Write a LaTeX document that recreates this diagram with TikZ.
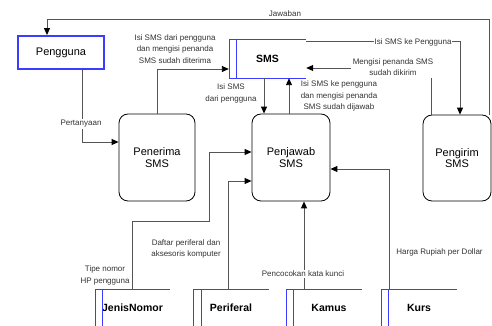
\documentclass[tikz,border=0pt]{standalone}
\usepackage{fontspec}
\setmainfont{Liberation Sans}
\usetikzlibrary{arrows.meta,calc}
\definecolor{storeblue}{RGB}{60,60,255}
\definecolor{flowgray}{RGB}{85,85,85}
\tikzset{
  proc/.style={draw=black, line width=0.8pt, rounded corners=9pt, align=center,
    font=\fontsize{11}{11.5}\selectfont, inner sep=0pt},
  ent/.style={draw=storeblue, line width=1.8pt, align=center,
    font=\fontsize{11}{12}\selectfont, inner sep=0pt},
  storetxt/.style={align=center, font=\bfseries\fontsize{10.5}{12}\selectfont, inner sep=0pt},
  storeline/.style={draw=storeblue, line width=0.9pt},
  flow/.style={draw=flowgray, line width=0.9pt, -{Triangle[length=7pt,width=6pt,color=black]}},
  lab/.style={align=center, font=\fontsize{8}{11.5}\selectfont, inner sep=1pt, text=black!80},
  labw/.style={lab, fill=white}
}
\begin{document}
\begin{tikzpicture}[x=1pt,y=-1pt]
\useasboundingbox (0,0) rectangle (492,326);
\clip (0,0) rectangle (492,326);
\fill[white] (0,0) rectangle (492,326);

% entities / processes
\node[ent, minimum width=86pt, minimum height=33pt] (pengguna) at (61,52.5) {Pengguna};
\node[proc, minimum width=76pt, minimum height=87pt] (penerima) at (157,157.5) {Penerima\\SMS};
\node[proc, minimum width=78pt, minimum height=87pt] (penjawab) at (291,157.5) {Penjawab\\SMS};
\node[proc, minimum width=68pt, minimum height=86pt] (pengirim) at (457,158) {Pengirim\\SMS};

% SMS store
\node[storetxt, minimum width=77pt, minimum height=39pt] (sms) at (267.5,58.5) {SMS};
\draw[storeline] (306,39) -- (229,39) -- (229,78) -- (306,78);
\draw[storeline] (236,39) -- (236,78);

% bottom stores
\node[storetxt, minimum width=75pt, minimum height=38pt] (jenis) at (132.5,308) {JenisNomor};
\node[storetxt, minimum width=76pt, minimum height=38pt] (periferal) at (231,308) {Periferal};
\node[storetxt, minimum width=76pt, minimum height=38pt] (kamus) at (324,308) {\hspace*{10pt}Kamus};
\node[storetxt, minimum width=76pt, minimum height=38pt] (kurs) at (419,308) {Kurs};
\draw[storeline] (95,330) -- (95,289) -- (170,289);
\draw[storeline] (102,289) -- (102,330);
\draw[storeline] (193,330) -- (193,289) -- (269,289);
\draw[storeline] (201,289) -- (201,330);
\draw[storeline] (286,330) -- (286,289) -- (362,289);
\draw[storeline] (293,289) -- (293,330);
\draw[storeline] (381,330) -- (381,289) -- (457,289);
\draw[storeline] (388,289) -- (388,330);

% coordinates for Jawaban
\coordinate (jR) at (489,19);
\coordinate (jL) at (47,19);

% flows
\draw[flow] (pengirim.north -| jR) |- (jL) -- (pengguna.north -| jL);
\node[lab] at (285,14) {Jawaban};

\draw[flow] ([xshift=21pt]pengguna.south) |- ([yshift=15.5pt]penerima.west);
\node[labw] at (81,124) {Pertanyaan};

\draw[flow] (penerima.north) |- ([yshift=-10.5pt]sms.west);
\node[lab] at (175,49) {Isi SMS dari pengguna\\dan mengisi penanda\\SMS sudah diterima};

\draw[flow] ([xshift=-3.5pt]sms.south) -- ([xshift=-3.5pt]sms.south |- penjawab.north);
\node[lab] at (231,93.5) {Isi SMS\\dari pengguna};

\draw[flow] ([xshift=-2pt]penjawab.north) -- ([xshift=-2pt]penjawab.north |- sms.south);
\node[lab] at (339,96) {Isi SMS ke pengguna\\dan mengisi penanda\\SMS sudah dijawab};

\draw[flow] ([yshift=-3pt]sms.north east) -| ([xshift=3pt]pengirim.north);
\node[labw] at (413,42) {Isi SMS ke Pengguna};

\draw[flow] ([xshift=-26pt]pengirim.north) |- ([yshift=-9.5pt]sms.east);
\node[labw, inner sep=2pt] at (393,67) {Mengisi penanda SMS\\sudah dikirim};

\coordinate (t1) at (132.5,221);
\coordinate (t2) at (209,221);
\draw[flow] (jenis.north) -- (t1) -- (t2) |- ([yshift=5.5pt]penjawab.west);
\node[lab] at (105,275.5) {Tipe nomor\\HP pengguna};

\draw[flow] ([xshift=-3pt]periferal.north) |- ([yshift=-23.5pt]penjawab.west);
\node[lab] at (186,249) {Daftar periferal dan\\aksesoris komputer};

\draw[flow] ([xshift=-20pt]kamus.north) -- ([xshift=-20pt]kamus.north |- penjawab.south);
\node[labw] at (303,274) {Pencocokan kata kunci};

\draw[flow] ([xshift=-30pt]kurs.north) |- ([yshift=-11.5pt]penjawab.east);
\node[lab] at (439.5,252) {Harga Rupiah per Dollar};
\end{tikzpicture}
\end{document}
